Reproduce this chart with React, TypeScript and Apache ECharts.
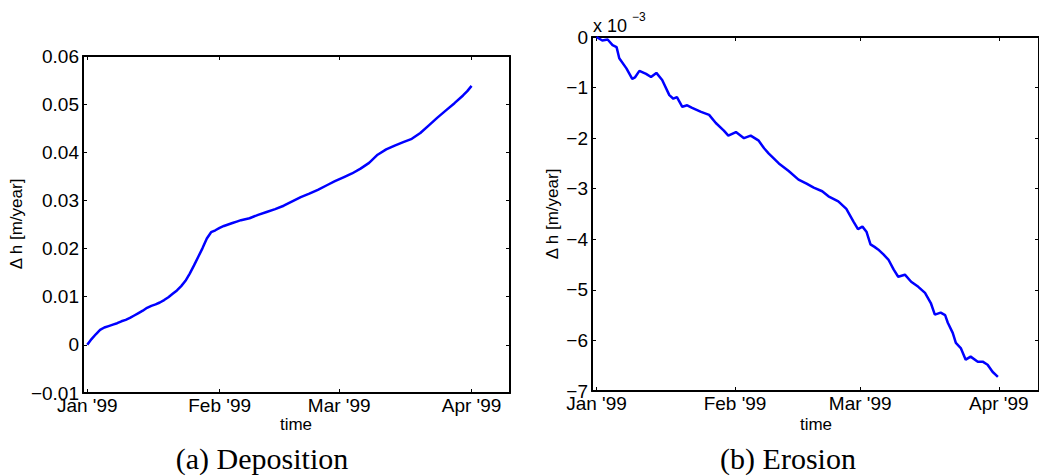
import React, { useEffect, useRef } from "react";
import * as echarts from "echarts";

const tickDays = [0, 31, 59, 90];
const tickLabels = ["Jan '99", "Feb '99", "Mar '99", "Apr '99"];

const depositionDays = [0, 1, 2, 3, 4, 5, 6, 7, 8, 9, 10, 11, 12, 13, 14, 15, 16, 17, 18, 19, 20, 21, 22, 23, 24, 25, 26, 27, 28, 29, 30, 31, 32, 33, 34, 35, 36, 38, 40, 42, 44, 46, 48, 50, 52, 54, 56, 58, 60, 62, 64, 66, 68, 70, 72, 74, 76, 78, 80, 82, 84, 86, 88, 89, 90];
const depositionValues = [0, 0.0012, 0.0022, 0.0031, 0.0036, 0.0039, 0.0042, 0.0045, 0.0049, 0.0052, 0.0056, 0.0061, 0.0066, 0.0071, 0.0077, 0.0081, 0.0084, 0.0088, 0.0093, 0.0099, 0.0106, 0.0113, 0.0122, 0.0133, 0.0148, 0.0165, 0.0183, 0.0201, 0.0221, 0.0234, 0.0238, 0.0243, 0.0247, 0.025, 0.0253, 0.0256, 0.0259, 0.0263, 0.027, 0.0276, 0.0282, 0.0289, 0.0298, 0.0307, 0.0314, 0.0322, 0.0331, 0.034, 0.0348, 0.0356, 0.0366, 0.0378, 0.0395, 0.0406, 0.0414, 0.0421, 0.0428, 0.044, 0.0456, 0.0472, 0.0487, 0.0502, 0.0518, 0.0527, 0.0538];

const erosionDays = [0, 1.3, 2.5, 3.6, 4.5, 5.1, 6.7, 8.0, 8.6, 9.6, 11.1, 12.2, 13.4, 14.7, 16.3, 17.2, 18.0, 19.2, 20.3, 21.4, 23.4, 25.2, 26.7, 28.5, 29.5, 31.2, 33, 34.5, 36.3, 37.5, 38.5, 40.8, 43, 45.2, 47, 48.6, 50.5, 51.9, 53, 54.1, 55.9, 57.5, 58.5, 59.5, 60.4, 61.3, 62.2, 63.0, 64.2, 65.3, 66.5, 67.5, 69.0, 70.4, 72.0, 73.5, 74.8, 75.7, 77, 78, 78.6, 79.7, 80.4, 81.5, 82.6, 83.7, 85.3, 86.4, 87.5, 88.6, 89.8];
// values in units of 10^-3 m/year
const erosionValuesE3 = [0, -0.07, -0.05, -0.16, -0.2, -0.42, -0.62, -0.83, -0.8, -0.67, -0.73, -0.79, -0.71, -0.85, -1.15, -1.22, -1.19, -1.38, -1.35, -1.4, -1.48, -1.54, -1.7, -1.85, -1.95, -1.88, -2.0, -1.95, -2.05, -2.2, -2.3, -2.5, -2.65, -2.82, -2.9, -2.98, -3.05, -3.15, -3.2, -3.25, -3.4, -3.65, -3.8, -3.75, -3.85, -4.1, -4.15, -4.2, -4.3, -4.4, -4.6, -4.74, -4.7, -4.84, -4.94, -5.06, -5.26, -5.49, -5.45, -5.5, -5.65, -5.85, -6.05, -6.15, -6.38, -6.32, -6.42, -6.42, -6.48, -6.62, -6.72];

const SANS = "'Liberation Sans', Arial, Helvetica, sans-serif";
const SERIF = "'Liberation Serif', 'Times New Roman', serif";
const MINUS = "\u2212";

const xLabel = (v: number) => {
  const i = tickDays.indexOf(Math.round(v));
  return i >= 0 ? tickLabels[i] : "";
};

function xAxes(gridIndex: number) {
  const common = {
    type: "value",
    gridIndex,
    min: -1,
    max: 99,
    splitLine: { show: false },
    axisLine: { show: true, onZero: false, lineStyle: { color: "#000", width: 2 } },
    axisTick: { show: true, inside: true, length: 4, customValues: tickDays, lineStyle: { color: "#000", width: 1 } },
  };
  return [
    {
      ...common,
      position: "bottom",
      axisLabel: { show: true, customValues: tickDays, formatter: xLabel, color: "#000", fontSize: 19, fontFamily: SANS, margin: 3 },
    },
    { ...common, position: "top", axisLabel: { show: false } },
  ];
}

function yAxes(gridIndex: number, min: number, max: number, interval: number, fmt: (v: number) => string) {
  const common = {
    type: "value",
    gridIndex,
    min,
    max,
    interval,
    splitLine: { show: false },
    axisLine: { show: true, onZero: false, lineStyle: { color: "#000", width: 2 } },
    axisTick: { show: true, inside: true, length: 4, lineStyle: { color: "#000", width: 1 } },
  };
  return [
    {
      ...common,
      position: "left",
      axisLabel: { show: true, formatter: fmt, color: "#000", fontSize: 19, fontFamily: SANS, margin: 4 },
    },
    { ...common, position: "right", axisLabel: { show: false } },
  ];
}

const fmtDep = (v: number) => {
  if (Math.abs(v) < 1e-9) return "0";
  return (v < 0 ? MINUS : "") + Math.abs(v).toFixed(2);
};
const fmtEro = (v: number) => {
  if (Math.abs(v) < 1e-9) return "0";
  return (v < 0 ? MINUS : "") + Math.round(Math.abs(v));
};

export default function App() {
  const ref = useRef<HTMLDivElement>(null);
  useEffect(() => {
    if (!ref.current) return;
    const chart = echarts.init(ref.current, undefined, { renderer: "svg" });
    const depData = depositionDays.map((d, i) => [d, depositionValues[i]]);
    const eroData = erosionDays.map((d, i) => [d, erosionValuesE3[i]]);
    const nameStyle = { fill: "#000", fontSize: 17, fontFamily: SANS, align: "center", verticalAlign: "middle" };
    chart.setOption({
      animation: false,
      backgroundColor: "#fff",
      grid: [
        { left: 83, top: 56, width: 427, height: 337 },
        { left: 592, top: 37, width: 449, height: 354 },
      ],
      xAxis: [...xAxes(0), ...xAxes(1)],
      yAxis: [...yAxes(0, -0.01, 0.06, 0.01, fmtDep), ...yAxes(1, -7, 0, 1, fmtEro)],
      series: [
        {
          type: "line",
          xAxisIndex: 0,
          yAxisIndex: 0,
          data: depData,
          showSymbol: false,
          lineStyle: { color: "#0000ff", width: 2.5 },
          z: 1,
        },
        {
          type: "line",
          xAxisIndex: 2,
          yAxisIndex: 2,
          data: eroData,
          showSymbol: false,
          lineStyle: { color: "#0000ff", width: 2.5 },
          z: 1,
        },
      ],
      graphic: [
        { type: "text", x: 16, y: 224, rotation: Math.PI / 2, style: { ...nameStyle, text: "\u0394 h [m/year]" } },
        { type: "text", x: 552, y: 214, rotation: Math.PI / 2, style: { ...nameStyle, text: "\u0394 h [m/year]" } },
        { type: "text", x: 296, y: 424, style: { ...nameStyle, text: "time" } },
        { type: "text", x: 816, y: 424, style: { ...nameStyle, text: "time" } },
        { type: "text", x: 593, y: 26, style: { fill: "#000", fontSize: 18, fontFamily: SANS, align: "left", verticalAlign: "middle", text: "x 10" } },
        { type: "text", x: 632, y: 16.5, style: { fill: "#000", fontSize: 12, fontFamily: SANS, align: "left", verticalAlign: "middle", text: MINUS + "3" } },
        { type: "text", x: 262, y: 458, style: { fill: "#000", fontSize: 30, fontFamily: SERIF, align: "center", verticalAlign: "middle", text: "(a) Deposition" } },
        { type: "text", x: 788, y: 458, style: { fill: "#000", fontSize: 30, fontFamily: SERIF, align: "center", verticalAlign: "middle", text: "(b) Erosion" } },
      ],
    });
    return () => chart.dispose();
  }, []);
  return (
    <div
      ref={ref}
      style={{ position: "fixed", left: 0, top: 0, width: 1039, height: 476, background: "#fff" }}
    />
  );
}
